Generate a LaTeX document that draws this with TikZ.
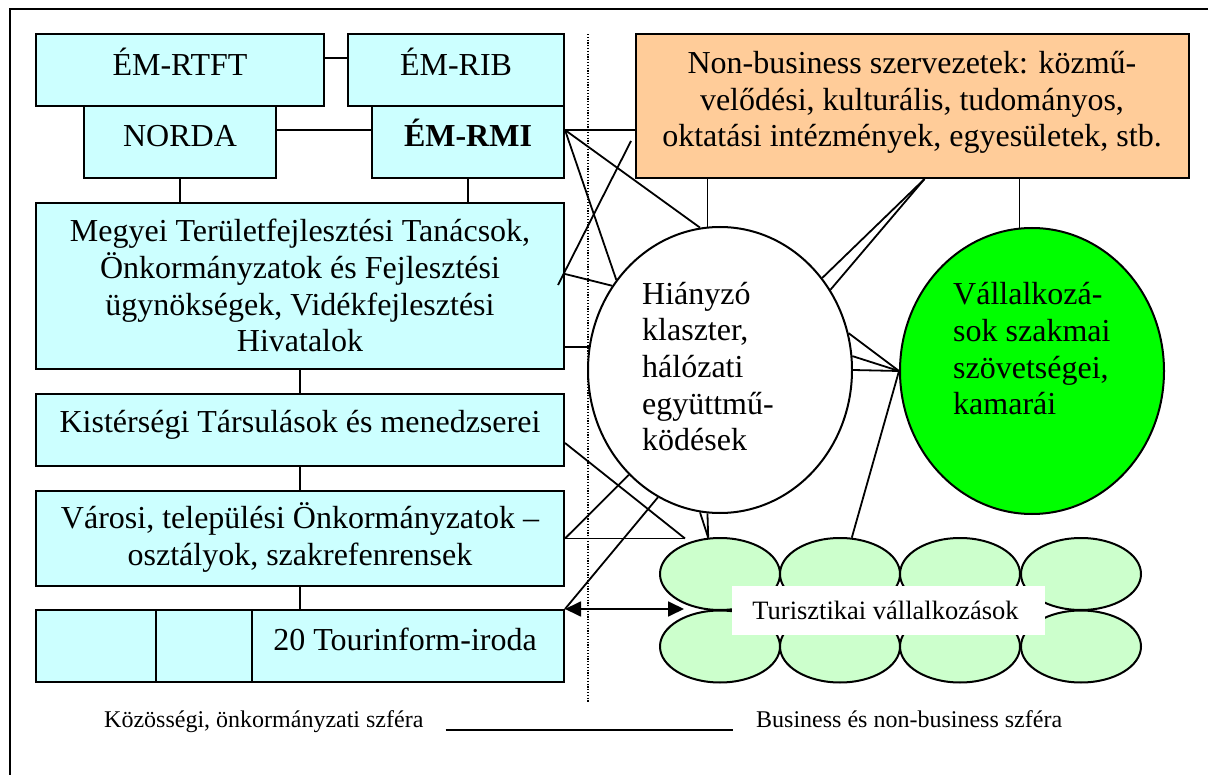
\documentclass[tikz,border=0pt]{standalone}
\usepackage{fontspec}
\setmainfont{Liberation Serif}
\usetikzlibrary{shapes.geometric,arrows.meta}
\definecolor{boxcyan}{HTML}{CCFFFF}
\definecolor{nbfill}{HTML}{FFCC99}
\definecolor{chamber}{HTML}{00FF00}
\definecolor{firm}{HTML}{CCFFCC}
\newcommand\boxfont{\fontsize{32}{36.7}\selectfont}
\newcommand\capfont{\fontsize{24}{28}\selectfont}
\newcommand\tagfont{\fontsize{26.5}{30}\selectfont}

\begin{document}
\begin{tikzpicture}[x=1pt,y=-1pt,
  box/.style={draw, line width=2pt, fill=boxcyan, rectangle, inner sep=0pt},
  oval/.style={draw, ellipse, line width=2pt, inner sep=0pt},
  txt/.style={font=\boxfont, inner sep=0pt, anchor=base},
  link/.style={line width=1.8pt}]
\useasboundingbox (0,0) rectangle (1208,775);

% outer frame
\draw[line width=2.4pt] (10,775) -- (10,9) -- (1208,9);

% sphere divider
\draw[line width=1.2pt, dash pattern=on 1.2pt off 1.6pt] (588,34) -- (588,703);

% public sector boxes
\node[box, minimum width=288pt, minimum height=72pt] (rtft) at (180,70) {};
\node[box, minimum width=216pt, minimum height=72pt] (rib) at (456,70) {};
\node[box, minimum width=192pt, minimum height=72pt] (norda) at (180,142) {};
\node[box, minimum width=192pt, minimum height=72pt] (rmi) at (468,142) {};
\node[box, minimum width=528pt, minimum height=166pt] (megyei) at (300,286) {};
\node[box, minimum width=528pt, minimum height=72pt] (kist) at (300,430) {};
\node[box, minimum width=528pt, minimum height=95pt] (varosi) at (300,538.5) {};
\node[box, minimum width=145pt, minimum height=72pt] (tour1) at (108.5,646) {};
\node[box, minimum width=144pt, minimum height=72pt] (tour2) at (228,646) {};
\node[box, minimum width=312pt, minimum height=72pt] (tour3) at (408,646) {};

% business / non-business side
\node[draw, line width=2pt, fill=nbfill, minimum width=553pt, minimum height=144pt, inner sep=0pt] (nonbiz) at (912.5,106) {};
\node[oval, fill=white, minimum width=264pt, minimum height=286pt] (hia) at (720,370) {};
\node[oval, fill=chamber, minimum width=264pt, minimum height=286pt] (green) at (1032,371) {};

\foreach \i/\x in {1/720,2/840,3/960,4/1081}{
  \node[oval, fill=firm, minimum width=120pt, minimum height=72pt] (e\i) at (\x,574) {};
}
\foreach \i/\x in {5/720,6/840,7/960,8/1081}{
  \node[oval, fill=firm, minimum width=120pt, minimum height=72pt] (e\i) at (\x,646.5) {};
}
\node[fill=white, minimum width=313pt, minimum height=49pt, inner sep=0pt] (firmtag) at (888.5,610.5) {};

% free ends
\coordinate (rmiport) at ([yshift=12pt]rmi.east);
\coordinate (fa) at (631,141);
\coordinate (fb) at (558,285);
\coordinate (vtip) at (685,538.5);
\coordinate (arrowend) at ([xshift=119pt]tour3.north east);

% connectors inside the public sector
\draw[link] ([yshift=12pt]rtft.east) -- ([yshift=12pt]rib.west);
\draw[link] ([yshift=12pt]norda.east) -- ([yshift=12pt]rmi.west);
\draw[link] (norda.south) -- (norda.south |- megyei.north);
\draw[link] (rmi.south) -- (rmi.south |- megyei.north);
\draw[link] (megyei.south) -- (kist.north);
\draw[link] (kist.south) -- (varosi.north);
\draw[link] (varosi.south) -- (varosi.south |- tour3.north);

% links towards the network
\draw[link] (rmiport) -- (rmiport -| nonbiz.west);
\draw[link] (rmiport) -- (hia.98);
\draw[link] (rmiport) -- (hia.139);
\draw[link] (fa) -- (fb);
\draw[link] ([yshift=12pt]megyei.east) -- (hia.142);
\draw[link] (hia.170) -- (hia.170 -| megyei.east);
\draw[link] ([yshift=-13pt]kist.east) -- (vtip);
\draw[link] (varosi.east) -- (vtip);
\draw[link] (varosi.east) -- (hia.229);
\draw[link] (tour3.north east) -- (hia.244);
\draw[link, {Triangle[length=16pt,width=15pt]}-{Triangle[length=16pt,width=15pt]}] (tour3.north east) -- (arrowend);

\draw[link] (hia.95) -- (hia.95 |- nonbiz.south);
\draw[link] (green.95) -- (green.95 |- nonbiz.south);
\draw[link] ([xshift=12pt]nonbiz.south) -- (hia.42);
\draw[link] ([xshift=12pt]nonbiz.south) -- (hia.36);
\draw[link] (hia.16) -- (green.west);
\draw[link] (hia.6) -- (green.west);
\draw[link] (hia.east) -- (green.west);
\draw[link] (green.west) -- (e2.72);
\draw[link] (hia.262) -- (e1.108);
\draw[link] (hia.265) -- (e1.108);

% texts (multi-line texts are placed by the baseline of their last line)
\node[txt] (trtft) at (180,76) {ÉM-RTFT};
\node[txt] (trib) at (456,76) {ÉM-RIB};
\node[txt] (tnorda) at (180,147) {NORDA};
\node[txt, font=\boxfont\bfseries] (trmi) at (468,147) {ÉM-RMI};
\node[txt, align=center] (tmegyei) at (300,352) {Megyei Területfejlesztési Tanácsok,\\Önkormányzatok és Fejlesztési\\ügynökségek, Vidékfejlesztési\\Hivatalok};
\node[txt] (tkist) at (300,433) {Kistérségi Társulások és menedzserei};
\node[txt, align=center] (tvarosi) at (300,565) {Városi, települési Önkormányzatok –\\osztályok, szakrefenrensek};
\node[txt] (ttour) at (405,650) {20 Tourinform-iroda};
\node[txt, align=center] (tnonbiz) at (912,147) {Non-business szervezetek: közmű-\\velődési, kulturális, tudományos,\\oktatási intézmények, egyesületek, stb.};
\node[txt, anchor=base west, align=left] (thia) at (642,451) {Hiányzó\\klaszter,\\hálózati\\együttmű-\\ködések};
\node[txt, anchor=base west, align=left] (tgreen) at (953,415) {Vállalkozá-\\sok szakmai\\szövetségei,\\kamarái};
\node[font=\tagfont, inner sep=0pt, anchor=base] (ttag) at (885.5,619) {Turisztikai vállalkozások};

% sphere captions
\node[font=\capfont, inner sep=0pt, anchor=base west] (capl) at (104,727) {Közösségi, önkormányzati szféra};
\node[font=\capfont, inner sep=0pt, anchor=base west] (capr) at (756,727) {Business és non-business szféra};
\draw[line width=1.8pt] ([xshift=22pt]capl.base east |- 0,730) -- ([xshift=-23pt]capr.base west |- 0,730);
\end{tikzpicture}
\end{document}
